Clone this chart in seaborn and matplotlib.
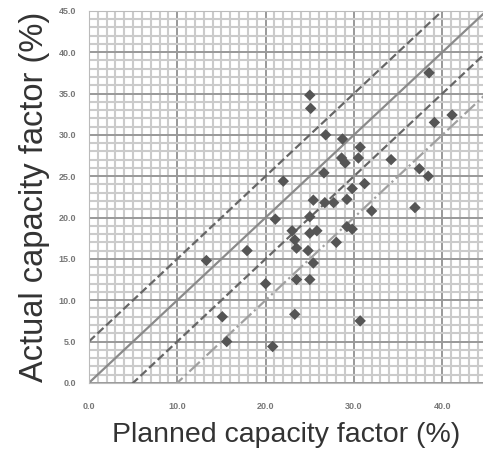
import numpy as np
import pandas as pd
import matplotlib
matplotlib.use("Agg")
import matplotlib.pyplot as plt
from matplotlib.ticker import MultipleLocator, FormatStrFormatter
import seaborn as sns

# Данные
planned = [13.3, 15.1, 15.6, 17.9, 20.0, 20.8, 21.1, 22.0, 23.0, 23.3,
           23.5, 23.5, 23.3, 24.8, 25.0, 25.4, 25.0, 25.8, 25.0, 25.0,
           25.1, 25.4, 26.7, 27.7, 26.6, 26.8, 28.0, 28.7, 28.6, 29.0,
           29.2, 29.8, 29.2, 29.8, 30.5, 30.7, 30.7, 31.2, 32.0, 34.2,
           36.9, 37.4, 38.4, 38.5, 39.1, 41.1]
actual = [14.8, 8.0, 5.0, 16.0, 12.0, 4.4, 19.8, 24.4, 18.4, 17.3,
          16.3, 12.5, 8.3, 16.0, 12.5, 14.5, 18.1, 18.4, 20.1, 34.8,
          33.2, 22.1, 21.8, 21.8, 25.4, 30.0, 17.0, 29.5, 27.2, 26.6,
          18.9, 18.6, 22.2, 23.5, 27.2, 28.5, 7.5, 24.1, 20.8, 27.0,
          21.2, 25.9, 25.0, 37.5, 31.5, 32.4]

# Опорные линии y = x + offset
line_offsets = [5, 0, -5, -10]
line_styles = ["--", "-", "--", "-."]
line_colors = ["#666666", "#8a8a8a", "#666666", "#a0a0a0"]

x_ticks = [0, 10, 20, 30, 40]
y_ticks = [0, 5, 10, 15, 20, 25, 30, 35, 40, 45]

df = pd.DataFrame({"planned": planned, "actual": actual})

sns.set_style("white")
plt.rcParams["font.family"] = ["Liberation Sans", "DejaVu Sans"]

fig = plt.figure(figsize=(4.83, 4.51), dpi=100)
ax = fig.add_axes([0.184, 0.151, 0.816, 0.825])

ax.set_xlim(0, 44.6)
ax.set_ylim(0, 45)

# Сетка: мелкая через 1, крупная через 10 (x) и 5 (y)
ax.xaxis.set_minor_locator(MultipleLocator(1))
ax.yaxis.set_minor_locator(MultipleLocator(1))
ax.set_xticks(x_ticks)
ax.set_yticks(y_ticks)
ax.grid(which="minor", color="#cbcbcb", linewidth=1.5)
ax.grid(which="major", color="#999999", linewidth=1.4)
ax.set_axisbelow(True)

for off, ls, col in zip(line_offsets, line_styles, line_colors):
    xs = np.array([0, 45])
    ref = pd.DataFrame({"x": xs, "y": xs + off})
    sns.lineplot(data=ref, x="x", y="y", ax=ax, color=col, linestyle=ls,
                 linewidth=1.6)

sns.scatterplot(data=df, x="planned", y="actual", ax=ax, marker="D", s=34,
                color="#555555", edgecolor="none", zorder=5)

ax.xaxis.set_major_formatter(FormatStrFormatter("%.1f"))
ax.yaxis.set_major_formatter(FormatStrFormatter("%.1f"))
ax.tick_params(which="both", length=0, labelsize=6.5, labelcolor="#777777")
ax.tick_params(axis="x", pad=14)
ax.tick_params(axis="y", pad=9)
for lab in ax.get_xticklabels() + ax.get_yticklabels():
    lab.set_fontweight("bold")

for side in ["left", "bottom", "top"]:
    ax.spines[side].set_color("#bbbbbb")
ax.spines["right"].set_visible(False)

ax.set_xlabel("Planned capacity factor (%)", fontsize=20.5, color="#333333", labelpad=8)
ax.set_ylabel("Actual capacity factor (%)", fontsize=23.5, color="#333333", labelpad=6)

fig.savefig("out.png", dpi=100)
